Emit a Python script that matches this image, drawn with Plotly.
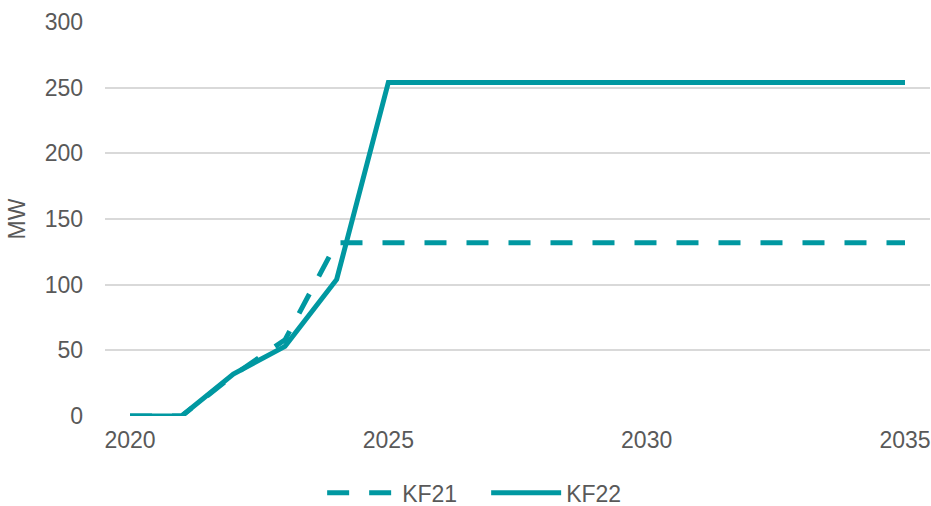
import plotly.graph_objects as go

years = [2020, 2021, 2022, 2023, 2024, 2025, 2026, 2027, 2028, 2029, 2030, 2031, 2032, 2033, 2034, 2035]
kf21 = [0, 0, 31, 58, 132, 132, 132, 132, 132, 132, 132, 132, 132, 132, 132, 132]
kf22 = [0, 0, 32, 53, 104, 254, 254, 254, 254, 254, 254, 254, 254, 254, 254, 254]
x_ticks = [2020, 2025, 2030, 2035]
y_ticks = [0, 50, 100, 150, 200, 250, 300]

color = "#0098A1"
grey = "#595959"
font = "Liberation Sans, Arial, sans-serif"
fs = 23

fig = go.Figure()
fig.add_trace(go.Scatter(x=years, y=kf21, name="KF21", mode="lines",
                         line=dict(color=color, width=5, dash="22px,20px")))
fig.add_trace(go.Scatter(x=years, y=kf22, name="KF22", mode="lines",
                         line=dict(color=color, width=5)))

fig.update_layout(
    width=931, height=506,
    margin=dict(l=105, r=1, t=22, b=90, autoexpand=False),
    paper_bgcolor="white", plot_bgcolor="white",
    font=dict(family=font, size=fs, color=grey),
    showlegend=True,
    legend=dict(orientation="h", x=0.462, xanchor="center",
                y=-0.195, yanchor="middle", itemwidth=70, entrywidth=79,
                font=dict(size=fs, color=grey)),
    xaxis=dict(range=[2019.516, 2035.484], tickvals=x_ticks, showgrid=False,
               zeroline=False, showline=False, ticks="", ticklabelstandoff=8,
               tickfont=dict(size=fs, color=grey)),
    yaxis=dict(range=[0, 300], tickvals=y_ticks, showgrid=True, gridcolor="#D9D9D9",
               gridwidth=2, zeroline=False, showline=False, ticks="",
               ticklabelstandoff=21,
               title=dict(text="MW", font=dict(size=fs, color=grey), standoff=12),
               tickfont=dict(size=fs, color=grey)),
)

fig.write_html("out.html")
